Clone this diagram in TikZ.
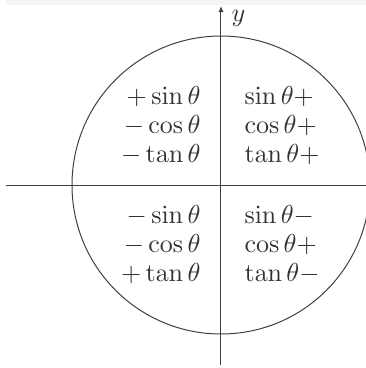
\documentclass[tikz,border=0pt]{standalone}
\usetikzlibrary{arrows.meta}
\begin{document}
\begin{tikzpicture}[x=1pt,y=-1pt,
  axis/.style={draw=black!75,line width=1pt},
  lbl/.style={text=black!80,inner sep=0pt,scale=2.6,font=\fontsize{10}{11.15}\selectfont}]
\useasboundingbox (0,0) rectangle (366,368);
\fill[black!4] (6,0) rectangle (366,4.5);
\coordinate (O) at (221,185);
\draw[axis] (O) circle[radius=149];
\coordinate (xl) at (6,185);
\coordinate (xr) at (366,185);
\coordinate (yb) at (221,365);
\coordinate (yt) at (221,6);
\draw[axis] (xl) -- (xr);
\draw[axis,-{Latex[length=6pt,width=5pt]}] (yb) -- (yt);
\node[lbl,anchor=west] (ylab) at (231,18) {$y$};
\node[lbl,anchor=east,align=right] (q2) at (201,126) {$+\sin\theta$\\$-\cos\theta$\\$-\tan\theta$};
\node[lbl,anchor=west,align=left] (q1) at (244,126) {$\sin\theta+$\\$\cos\theta+$\\$\tan\theta+$};
\node[lbl,anchor=east,align=right] (q3) at (201,245) {$-\sin\theta$\\$-\cos\theta$\\$+\tan\theta$};
\node[lbl,anchor=west,align=left] (q4) at (244,245) {$\sin\theta-$\\$\cos\theta+$\\$\tan\theta-$};
\end{tikzpicture}
\end{document}
